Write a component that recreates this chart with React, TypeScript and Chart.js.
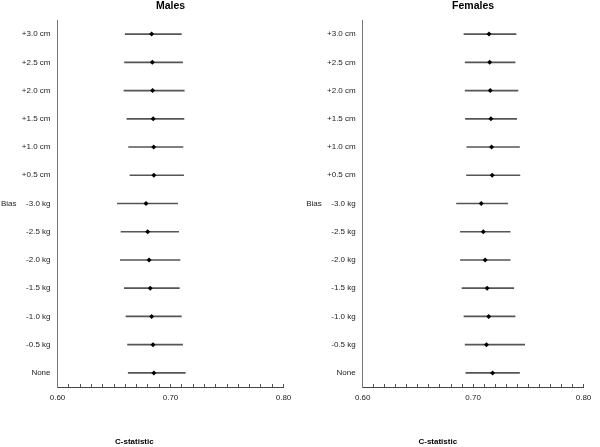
import React, { useEffect, useRef } from "react";
import { Chart, registerables } from "chart.js";

Chart.register(...registerables);

const categories = [
  "+3.0 cm", "+2.5 cm", "+2.0 cm", "+1.5 cm", "+1.0 cm", "+0.5 cm",
  "-3.0 kg", "-2.5 kg", "-2.0 kg", "-1.5 kg", "-1.0 kg", "-0.5 kg", "None",
];

const malesEst = [0.6833, 0.6839, 0.6842, 0.6847, 0.6851, 0.6853, 0.6783, 0.6798, 0.6810, 0.6821, 0.6833, 0.6845, 0.6853];
const malesLow = [0.6599, 0.6593, 0.6588, 0.6614, 0.6629, 0.6641, 0.6530, 0.6562, 0.6556, 0.6591, 0.6606, 0.6620, 0.6626];
const malesHigh = [0.7096, 0.7107, 0.7122, 0.7119, 0.7110, 0.7116, 0.7063, 0.7072, 0.7084, 0.7078, 0.7096, 0.7107, 0.7131];

const femalesEst = [0.7144, 0.7150, 0.7155, 0.7161, 0.7167, 0.7173, 0.7074, 0.7092, 0.7109, 0.7127, 0.7141, 0.7121, 0.7176];
const femalesLow = [0.6917, 0.6928, 0.6928, 0.6931, 0.6943, 0.6940, 0.6850, 0.6885, 0.6885, 0.6900, 0.6917, 0.6928, 0.6934];
const femalesHigh = [0.7389, 0.7380, 0.7406, 0.7394, 0.7420, 0.7424, 0.7313, 0.7336, 0.7336, 0.7368, 0.7380, 0.7467, 0.7420];

const xMin = 0.6;
const xMax = 0.8;
const xStep = 0.01;
const groupLabel = "Bias";
const groupRow = "-3.0 kg";
const xTitle = "C-statistic";

const FONT = "'Liberation Sans', Arial, Helvetica, sans-serif";

type PanelProps = {
  title: string;
  est: number[];
  low: number[];
  high: number[];
  yWidth: number;
  rightPad: number;
};

function Panel({ title, est, low, high, yWidth, rightPad }: PanelProps) {
  const ref = useRef<HTMLCanvasElement | null>(null);

  useEffect(() => {
    if (!ref.current) return;
    const extraText = {
      id: "extraText",
      afterDraw(chart: any) {
        const ctx = chart.ctx;
        const area = chart.chartArea;
        const yScale = chart.scales.y;
        ctx.save();
        ctx.fillStyle = "#222";
        ctx.font = `8px ${FONT}`;
        ctx.textAlign = "right";
        ctx.textBaseline = "middle";
        const yp = yScale.getPixelForValue(categories.indexOf(groupRow));
        ctx.fillText(groupLabel, area.left - 41, yp);
        ctx.font = `bold 8px ${FONT}`;
        ctx.fillStyle = "#000";
        ctx.textAlign = "center";
        ctx.fillText(xTitle, area.left + area.width * 0.34, chart.height - 5);
        ctx.restore();
      },
    };

    const chart = new Chart(ref.current, {
      type: "bar",
      data: {
        labels: categories,
        datasets: [
          {
            type: "line",
            indexAxis: "y",
            data: est,
            showLine: false,
            pointStyle: "rectRot",
            pointRadius: 2.5,
            pointBackgroundColor: "#000",
            pointBorderColor: "#000",
            pointBorderWidth: 0,
            order: 0,
          } as any,
          {
            type: "bar",
            data: low.map((l, i) => [l, high[i]]),
            backgroundColor: "#555555",
            borderWidth: 0,
            barThickness: 1,
            order: 1,
          } as any,
        ],
      },
      plugins: [extraText],
      options: {
        indexAxis: "y",
        animation: false,
        responsive: false,
        events: [],
        layout: { padding: { left: 0, right: rightPad, top: 0, bottom: 0 } },
        plugins: {
          legend: { display: false },
          tooltip: { enabled: false },
          title: {
            display: true,
            text: title,
            fullSize: false,
            color: "#000",
            font: { family: FONT, size: 10.5, weight: "bold" },
            padding: { top: 0, bottom: 7.4 },
          },
        },
        scales: {
          x: {
            type: "linear",
            min: xMin,
            max: xMax,
            afterFit(scale: any) {
              scale.height = 60;
            },
            ticks: {
              stepSize: xStep,
              autoSkip: false,
              maxRotation: 0,
              minRotation: 0,
              padding: 8.7,
              color: "#222",
              font: { family: FONT, size: 8 },
              callback(value: any) {
                const v = Number(value);
                const r = Math.round(v * 10);
                return Math.abs(v * 10 - r) < 1e-6 ? v.toFixed(2) : "";
              },
            },
            grid: {
              drawOnChartArea: false,
              drawTicks: true,
              tickLength: -3,
              color: "#555",
              tickWidth: 1,
            },
            border: { display: true, color: "#444", width: 1 },
          },
          y: {
            type: "category",
            offset: true,
            afterFit(scale: any) {
              scale.width = yWidth;
            },
            ticks: {
              padding: 7,
              color: "#222",
              font: { family: FONT, size: 8 },
            },
            grid: { drawOnChartArea: false, drawTicks: false },
            border: { display: true, color: "#777", width: 1 },
          },
        },
      } as any,
    });
    return () => chart.destroy();
  }, [title, est, low, high, yWidth, rightPad]);

  return <canvas ref={ref} width={300} height={447} style={{ display: "block" }} />;
}

export default function App() {
  useEffect(() => {
    document.body.style.margin = "0";
  }, []);
  return (
    <div style={{ display: "flex", width: 600, height: 447, background: "#fff" }}>
      <Panel title="Males" est={malesEst} low={malesLow} high={malesHigh} yWidth={57.5} rightPad={14} />
      <Panel title="Females" est={femalesEst} low={femalesLow} high={femalesHigh} yWidth={62.7} rightPad={8.3} />
    </div>
  );
}
